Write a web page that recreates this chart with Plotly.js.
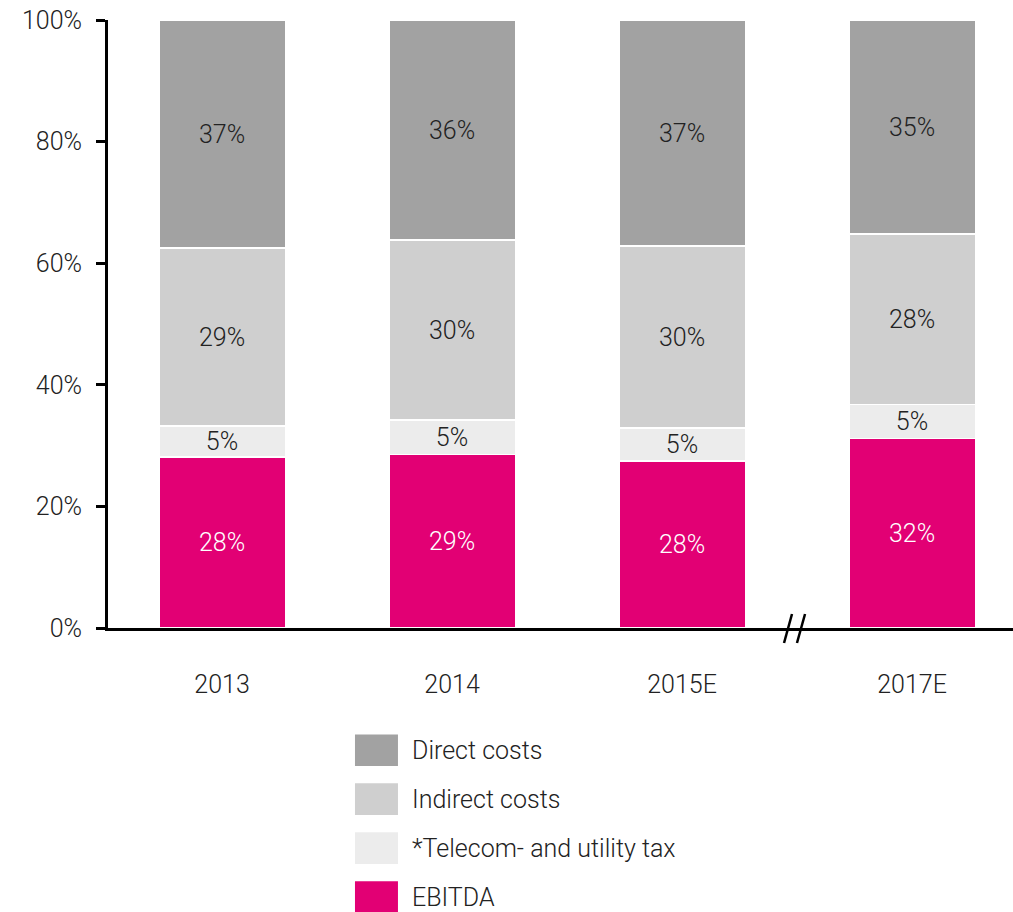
<!DOCTYPE html>
<html>
<head>
<meta charset="utf-8">
<script src="https://cdn.plot.ly/plotly-3.0.1.min.js"></script>
<style>html,body{margin:0;padding:0;background:#fff;}#chart{width:1013px;height:912px;}</style>
</head>
<body>
<div id="chart"></div>
<script>
// ---- data ----
const years = ['2013', '2014', '2015E', '2017E'];
const ebitda = [28.1, 28.5, 27.5, 31.2];
const tax = [5.1, 5.7, 5.4, 5.6];
const indirect = [29.3, 29.6, 29.9, 28.0];
const direct = [37.5, 36.2, 37.2, 35.2];
const ebitdaLbl = ['28%', '29%', '28%', '32%'];
const taxLbl = ['5%', '5%', '5%', '5%'];
const indirectLbl = ['29%', '30%', '30%', '28%'];
const directLbl = ['37%', '36%', '37%', '35%'];
const seriesNames = ['Direct costs', 'Indirect costs', '*Telecom- and utility tax', 'EBITDA'];
const yTicks = [0, 20, 40, 60, 80, 100];
const yTickLbl = ['0%', '20%', '40%', '60%', '80%', '100%'];

const colors = {
  'EBITDA': '#e20074',
  '*Telecom- and utility tax': '#ececec',
  'Indirect costs': '#cfcfcf',
  'Direct costs': '#a2a2a2'
};
const FONT = 'Roboto, "Liberation Sans", Arial, sans-serif';

function bar(name, vals, lbls, txtColor) {
  return {
    type: 'bar', name: name, x: years, y: vals, text: lbls,
    textposition: 'inside', insidetextanchor: 'middle', constraintext: 'none',
    textfont: {family: FONT, size: 25, color: txtColor, weight: 300},
    marker: {color: colors[name], line: {color: '#ffffff', width: 1.5}},
    width: 0.55, hoverinfo: 'skip', showlegend: false
  };
}

const traces = [
  bar('EBITDA', ebitda, ebitdaLbl, '#ffffff'),
  bar('*Telecom- and utility tax', tax, taxLbl, '#222222'),
  bar('Indirect costs', indirect, indirectLbl, '#222222'),
  bar('Direct costs', direct, directLbl, '#222222')
];

// manual legend (large swatches)
const shapes = [];
const annotations = [];
const legTop = -0.2010, legStep = -0.0805;
seriesNames.forEach((n, i) => {
  const yc = legTop + i * legStep;
  shapes.push({type: 'rect', xref: 'paper', yref: 'paper',
    x0: 0.2729, x1: 0.3204, y0: yc - 0.026, y1: yc + 0.026,
    fillcolor: colors[n], line: {width: 0}});
  annotations.push({xref: 'paper', yref: 'paper', x: 0.3339, y: yc,
    xanchor: 'left', yanchor: 'middle', text: n, showarrow: false,
    font: {family: FONT, size: 25, color: '#222222', weight: 300}});
});
// axis break marks
[[0.7470, 0.7558], [0.7613, 0.7702]].forEach(p => {
  shapes.push({type: 'line', xref: 'paper', yref: 'paper',
    x0: p[0], y0: -0.0247, x1: p[1], y1: 0.023,
    line: {color: '#000', width: 2.5}});
});

const layout = {
  width: 1013, height: 912,
  margin: {l: 108, r: 0, t: 20, b: 284},
  paper_bgcolor: '#fff', plot_bgcolor: '#fff',
  barmode: 'stack', bargap: 0.45,
  font: {family: FONT, size: 25, color: '#222222', weight: 300},
  showlegend: false,
  xaxis: {
    type: 'category', range: [-0.4957, 3.439], fixedrange: true,
    showline: true, linecolor: '#000', linewidth: 3,
    ticks: '', showgrid: false, zeroline: false,
    tickfont: {family: FONT, size: 25, color: '#222222', weight: 300},
    ticklabelstandoff: 32
  },
  yaxis: {
    range: [0, 100], tickvals: yTicks, ticktext: yTickLbl,
    showline: true, linecolor: '#000', linewidth: 3,
    ticks: 'outside', ticklen: 9, tickwidth: 3, tickcolor: '#000',
    showgrid: false, zeroline: false,
    tickfont: {family: FONT, size: 25, color: '#222222', weight: 300},
    ticklabelstandoff: 9
  },
  shapes: shapes,
  annotations: annotations
};

Plotly.newPlot('chart', traces, layout, {displayModeBar: false, staticPlot: true});
</script>
</body>
</html>
